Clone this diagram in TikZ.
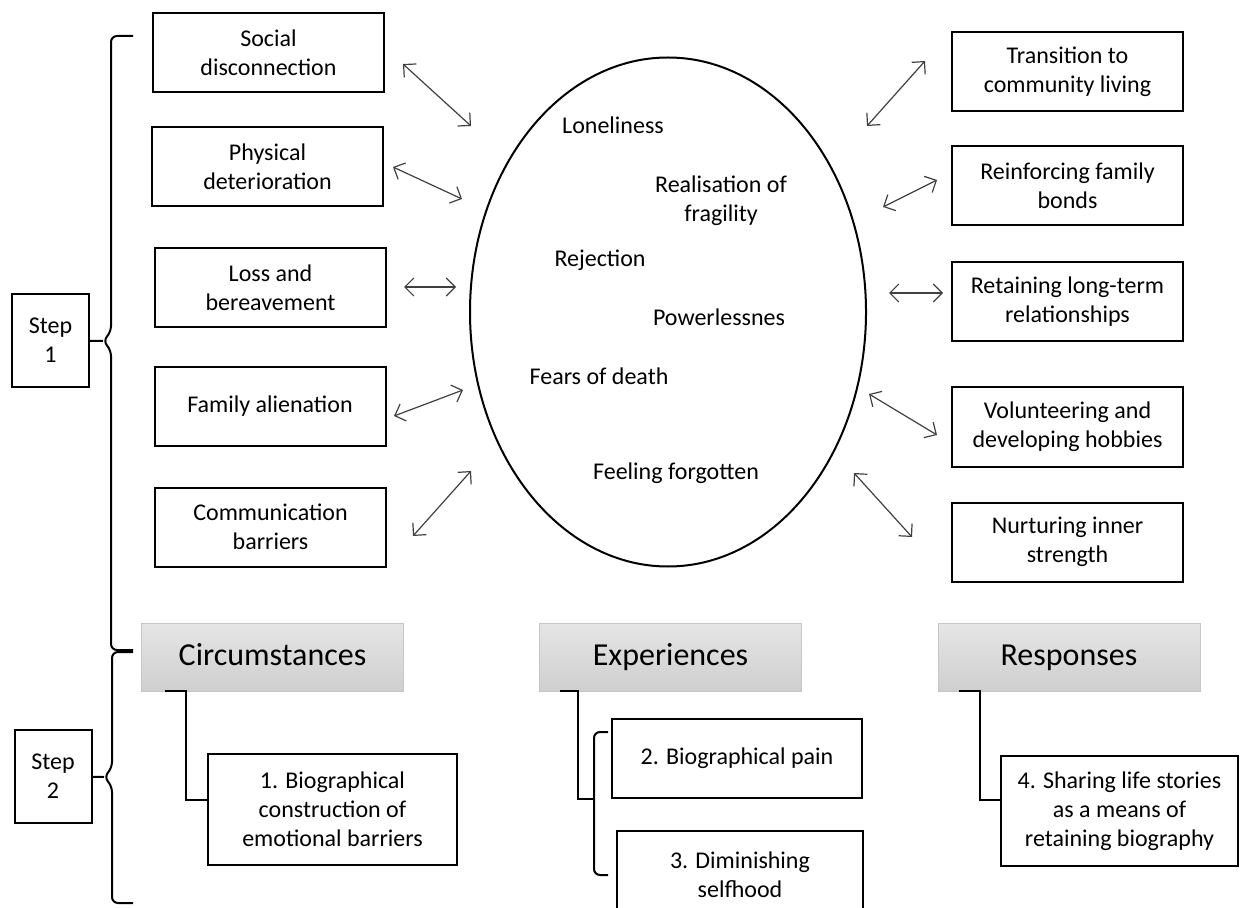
\documentclass[tikz,border=0pt]{standalone}
\usepackage{fontspec}
\setmainfont{Carlito}
\usetikzlibrary{arrows.meta,shapes.geometric,calc}

\begin{document}
\begin{tikzpicture}[x=0.5pt,y=-0.5pt,>={Straight Barb[length=4.5pt,width=9pt]},
 box/.style={draw,line width=1pt,align=center,minimum width=115.5pt,minimum height=39.5pt,inner sep=2pt,font=\fontsize{12}{14.5}\selectfont},
 stepbox/.style={box,minimum width=38.5pt,minimum height=46.5pt},
 head/.style={draw=gray!45,top color=gray!20,bottom color=gray!38,minimum width=131pt,minimum height=34pt,text height=11.5pt,text depth=3.5pt,font=\fontsize{16}{19}\selectfont},
 feel/.style={align=center,font=\fontsize{12}{14.5}\selectfont},
 link/.style={<->,draw=black!75,line width=0.6pt},
 tree/.style={line width=1pt},
 brace/.style={line width=1pt,rounded corners=3pt}]
\path[use as bounding box] (0,0) rectangle (1240,908);
\clip (0,0) rectangle (1240,908);
% step 1: circumstances - experiences - responses
\node[box] (soc) at (268.5,52.5) {Social\\disconnection};
\node[box] (phys) at (267.5,167) {Physical\\deterioration};
\node[box] (loss) at (270.5,287.5) {Loss and\\bereavement};
\node[box] (fam) at (270,406.5) {Family alienation};
\node[box] (comm) at (270.5,527) {Communication\\barriers};
\node[draw,ellipse,line width=1pt,minimum width=198pt,minimum height=254.5pt,inner sep=0pt] (oval) at (668,312) {};
\node[feel] (lone) at (613,125) {Loneliness};
\node[feel] (frag) at (721,201) {Realisation of\\fragility};
\node[feel] (rej) at (600,260) {Rejection};
\node[feel] (pow) at (719,317) {Powerlessnes};
\node[feel] (fear) at (599,376) {Fears of death};
\node[feel] (forg) at (676,473) {Feeling forgotten};
\node[box] (trans) at (1067.5,72) {Transition to\\community living};
\node[box] (reinf) at (1067.5,186) {Reinforcing family\\bonds};
\node[box] (retain) at (1067.5,302) {Retaining long-term\\relationships};
\node[box] (volun) at (1067.5,427) {Volunteering and\\developing hobbies};
\node[box] (nurt) at (1067.5,542) {Nurturing inner\\strength};
\foreach \n/\xa/\ya/\xb/\yb in {soc/403/64/471/126,phys/393/167/462/199,loss/404/287/456/287,fam/394/416/463/390,comm/413/536/471/471,
 trans/925/61/867/126,reinf/937/180/883/207,retain/943/293/889/293,volun/937/435/869/394,nurt/912/537/854/473}{
 \coordinate (\n-a) at (\xa,\ya);
 \coordinate (\n-b) at (\xb,\yb);
 \draw[link] (\n-a) -- (\n-b);}
% step 2: themes
\node[head] (circ) at (272.5,657) {Circumstances};
\node[head] (exper) at (670.5,657) {Experiences};
\node[head] (resp) at (1069,657) {Responses};
\node[box,minimum width=124.5pt,minimum height=55.5pt] (bio1) at (332.5,809.5) {1. Biographical\\construction of\\emotional barriers};
\node[box,minimum width=125pt] (bio2) at (737,758.5) {2. Biographical pain};
\node[box,minimum width=123pt,minimum height=44pt] (bio3) at (740,875) {3. Diminishing\\selfhood};
\node[box,minimum width=118.5pt,minimum height=55pt] (bio4) at (1119.5,811) {4. Sharing life stories\\as a means of\\retaining biography};
\draw[tree] ($(circ.south west)+(24,0)$) -- ++(21,0) |- ($(bio1.west)+(0,-10)$);
\coordinate (brk) at (594,799);
\draw[tree] ($(exper.south west)+(21,0)$) -- ++(18,0) |- (brk);
\draw[brace] (608,732) -- (594,732) -- (594,875) -- (608,875);
\draw[tree] ($(resp.south west)+(21,0)$) -- ++(21,0) |- ($(bio4.west)+(0,-11)$);
% steps and braces
\node[stepbox] (step1) at (50.5,340.5) {Step\\1};
\node[stepbox] (step2) at (53,776.5) {Step\\2};
\coordinate (cusp1) at (103,341);
\coordinate (cusp2) at (104,777);
\draw[brace] (133,36) -- (111,36) -- (111,332) -- (cusp1) -- (111,350) -- (111,650) -- (133,650);
\draw[brace] (133,652) -- (112,652) -- (112,768) -- (cusp2) -- (112,786) -- (112,903) -- (133,903);
\draw[tree] (step1) -- (cusp1);
\draw[tree] (step2) -- (cusp2);
\end{tikzpicture}
\end{document}
